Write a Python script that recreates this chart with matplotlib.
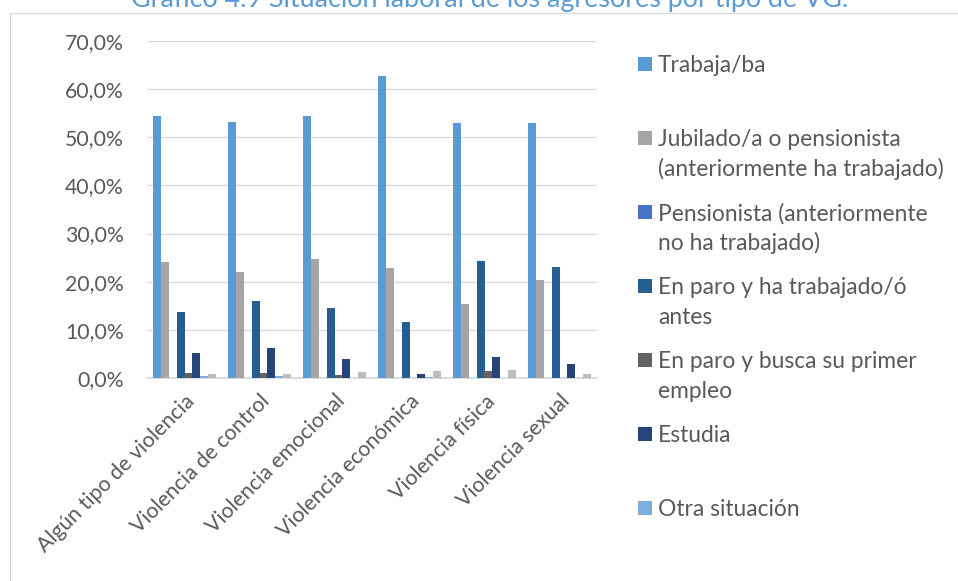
import matplotlib
matplotlib.use("Agg")
import matplotlib.pyplot as plt
import numpy as np
from matplotlib.lines import Line2D
from matplotlib.patches import Rectangle

plt.rcParams['font.family'] = ['Lato', 'DejaVu Sans']

categories = ["Algún tipo de violencia", "Violencia de control", "Violencia emocional",
              "Violencia económica", "Violencia física", "Violencia sexual"]

series_names = ["Trabaja/ba",
                "Jubilado/a o pensionista\n(anteriormente ha trabajado)",
                "Pensionista (anteriormente\nno ha trabajado)",
                "En paro y ha trabajado/ó\nantes",
                "En paro y busca su primer\nempleo",
                "Estudia",
                "Otra situación",
                "NS/NC"]

trabaja = [54.4, 53.2, 54.4, 62.7, 52.9, 52.9]
jubilado = [24.1, 22.0, 24.8, 22.9, 15.4, 20.3]
pensionista = [0.0, 0.0, 0.0, 0.0, 0.0, 0.0]
paro_trabajado = [13.8, 15.9, 14.5, 11.6, 24.3, 23.0]
paro_primer = [1.0, 1.0, 0.7, 0.0, 1.4, 0.0]
estudia = [5.1, 6.2, 3.9, 0.9, 4.4, 3.0]
otra = [0.4, 0.4, 0.1, 0.3, 0.0, 0.0]
nsnc = [0.8, 0.8, 1.2, 1.5, 1.7, 0.9]

series_values = [trabaja, jubilado, pensionista, paro_trabajado, paro_primer, estudia, otra, nsnc]
colors = ["#5B9BD5", "#A5A5A5", "#4472C4", "#255E91", "#636363", "#264478", "#7CAFDD", "#BDBDBD"]

yticks = [0, 10, 20, 30, 40, 50, 60, 70]
ytick_labels = ["0,0%", "10,0%", "20,0%", "30,0%", "40,0%", "50,0%", "60,0%", "70,0%"]
title = "Gráfico 4.9 Situación laboral de los agresores por tipo de VG."

W, H = 958, 581
PX = 72 / 100  # points per pixel
fig = plt.figure(figsize=(W / 100, H / 100), dpi=100)
ax = fig.add_axes([147 / W, 1 - 378 / H, 450 / W, 337 / H])
renderer = fig.canvas.get_renderer()


def width_px(text, size):
    t = fig.text(0, 0, text, fontsize=size)
    wpx = t.get_window_extent(renderer=renderer).width
    t.remove()
    return wpx


def fit_size(text, target, base=15.0):
    return base * target / width_px(text, base)


tick_size = fit_size("Violencia sexual", 150)
ytick_size = fit_size("70,0%", 59)
legend_size = fit_size("(anteriormente ha trabajado)", 285)
title_size = fit_size(title, 720)

x = np.arange(len(categories))
n = len(series_values)
w = 0.1055
for i, (vals, c) in enumerate(zip(series_values, colors)):
    ax.bar(x + (i - (n - 1) / 2) * w, vals, width=w, color=c, zorder=3, linewidth=0)

ax.set_xlim(-0.5, len(categories) - 0.5)
ax.set_ylim(0, 70)
ax.set_yticks(yticks)
ax.set_yticklabels(ytick_labels)
ax.yaxis.grid(True, color="#D9D9D9", linewidth=1.3 * PX, zorder=0)
ax.set_axisbelow(True)
for s in ["top", "right", "left"]:
    ax.spines[s].set_visible(False)
ax.spines["bottom"].set_color("#D9D9D9")
ax.spines["bottom"].set_linewidth(1.8 * PX)
ax.tick_params(axis="y", length=0, pad=23 * PX, labelsize=ytick_size, labelcolor="#595959")
ax.tick_params(axis="x", length=0, pad=13 * PX, labelsize=tick_size, labelcolor="#595959")
ax.set_xticks(x)
ax.set_xticklabels(categories, rotation=45, ha="right", va="top", rotation_mode="anchor")

# chart border (top and left visible)
fig.add_artist(Line2D([10 / W, 10 / W], [0, 1 - 12.5 / H], color="#D9D9D9", linewidth=1.3 * PX))
fig.add_artist(Line2D([10 / W, 1.0], [1 - 12.5 / H, 1 - 12.5 / H], color="#D9D9D9", linewidth=1.3 * PX))

# title (partially cut off at top)
fig.text(490 / W, 1 - 7 / H, title, ha="center", va="baseline", fontsize=title_size, color="#5B9BD5")

# legend (manual, first seven series)
sq = 14
for i in range(7):
    cy = 63.7 + 74 * i
    fig.add_artist(Rectangle((638 / W, 1 - (cy + sq / 2) / H), sq / W, sq / H,
                             facecolor=colors[i], edgecolor="none", transform=fig.transFigure))
    for j, line in enumerate(series_names[i].split("\n")):
        fig.text(658 / W, 1 - (cy + 29.3 * j) / H, line, ha="left", va="center_baseline",
                 fontsize=legend_size, color="#595959")

fig.savefig("out.png", dpi=100)
